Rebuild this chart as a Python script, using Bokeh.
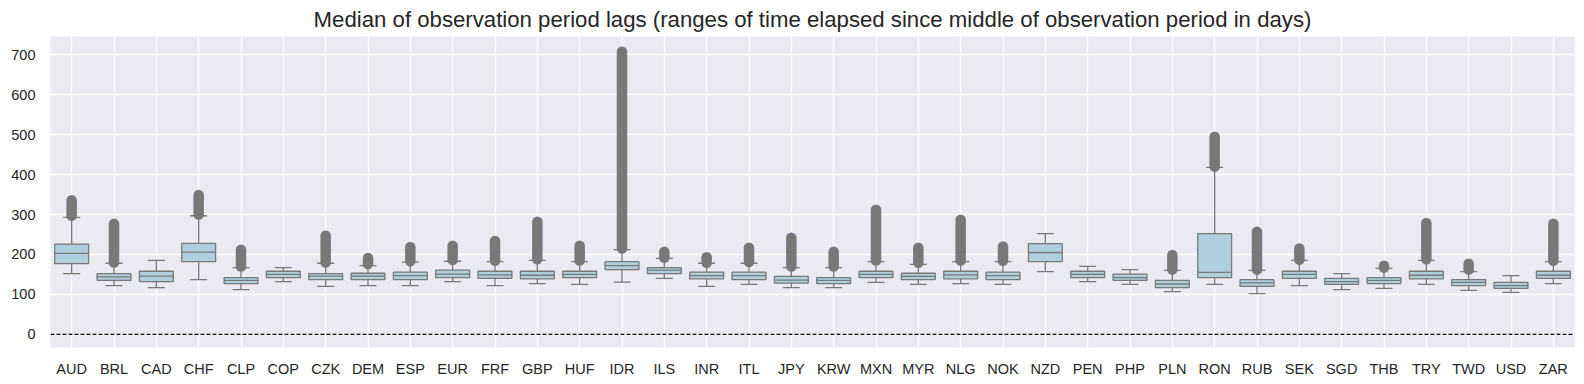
import math
from bokeh.plotting import figure
from bokeh.models import ColumnDataSource, Range1d, FixedTicker, Span, Title
from bokeh.embed import file_html
from bokeh.resources import INLINE

categories = ["AUD", "BRL", "CAD", "CHF", "CLP", "COP", "CZK", "DEM", "ESP", "EUR", "FRF", "GBP",
              "HUF", "IDR", "ILS", "INR", "ITL", "JPY", "KRW", "MXN", "MYR", "NLG", "NOK", "NZD",
              "PEN", "PHP", "PLN", "RON", "RUB", "SEK", "SGD", "THB", "TRY", "TWD", "USD", "ZAR"]
whisker_lo = [152, 122, 117, 137, 112, 132, 120, 122, 122, 132, 122, 127,
              125, 131, 140, 120, 125, 117, 117, 130, 125, 127, 125, 157,
              132, 125, 107, 125, 102, 122, 112, 115, 125, 110, 105, 127]
q1 = [177, 135, 132, 182, 127, 142, 137, 137, 137, 142, 140, 139,
      142, 162, 152, 139, 137, 128, 127, 142, 137, 139, 137, 182,
      142, 135, 117, 142, 120, 140, 125, 127, 139, 122, 115, 140]
median = [203, 144, 146, 206, 135, 150, 146, 146, 147, 151, 149, 148,
          150, 172, 161, 147, 147, 136, 135, 150, 145, 149, 147, 205,
          150, 142, 126, 155, 129, 150, 132, 135, 148, 130, 122, 148]
q3 = [226, 152, 158, 228, 142, 158, 152, 153, 156, 161, 158, 158,
      158, 182, 167, 156, 156, 145, 142, 158, 153, 158, 156, 227,
      158, 151, 135, 252, 137, 158, 140, 142, 158, 137, 130, 158]
whisker_hi = [293, 178, 185, 297, 167, 167, 178, 172, 181, 183, 182, 185,
              182, 212, 190, 178, 178, 167, 167, 182, 175, 182, 182, 252,
              170, 162, 160, 418, 160, 185, 152, 165, 185, 157, 147, 182]
nan = float("nan")
outlier_lo = [297, 180, nan, 300, 170, nan, 180, 176, 183, 186, 184, 188,
              185, 215, 192, 179, 181, 170, 170, 185, 179, 185, 184, nan,
              nan, nan, 162, 420, 162, 187, nan, 167, 188, 162, nan, 184]
outlier_hi = [336, 277, nan, 349, 212, nan, 247, 191, 219, 222, 234, 282,
              222, 708, 207, 193, 217, 242, 207, 312, 217, 287, 220, nan,
              nan, nan, 199, 495, 257, 215, nan, 172, 279, 177, nan, 277]
y_ticks = [0, 100, 200, 300, 400, 500, 600, 700]
title_text = "Median of observation period lags (ranges of time elapsed since middle of observation period in days)"

BOX_W = 0.8
CAP_W = 0.4
FILL = "#AFCFDF"
LINE = "#787878"
TXT = "#262626"
FONT = "Liberation Sans"

idx = list(range(len(categories)))
src = ColumnDataSource(dict(
    x=idx, lo=whisker_lo, q1=q1, med=median, q3=q3, hi=whisker_hi,
    cap_l=[i - CAP_W / 2 for i in idx], cap_r=[i + CAP_W / 2 for i in idx],
    box_l=[i - BOX_W / 2 for i in idx], box_r=[i + BOX_W / 2 for i in idx],
))
ox = [i for i in idx if not math.isnan(outlier_hi[i])]
osrc = ColumnDataSource(dict(
    x=ox, lo=[outlier_lo[i] for i in ox], hi=[outlier_hi[i] for i in ox]))

p = figure(frame_width=1524, frame_height=311, output_backend="svg", toolbar_location=None,
           x_range=Range1d(-0.5, len(categories) - 0.5), y_range=Range1d(-33, 746),
           min_border_left=50, min_border_right=10, min_border_top=35, min_border_bottom=38)
p.title = Title(text=title_text, align="center", text_font=FONT, text_font_size="22.2px",
                text_font_style="normal", text_color=TXT, standoff=9)
p.background_fill_color = "#EAEAF2"
p.border_fill_color = "white"
p.outline_line_color = None

for ax in (p.xaxis[0], p.yaxis[0]):
    ax.axis_line_color = None
    ax.major_tick_line_color = None
    ax.minor_tick_line_color = None
    ax.major_tick_out = 0
    ax.major_tick_in = 0
    ax.minor_tick_out = 0
    ax.major_label_text_font = FONT
    ax.major_label_text_font_size = "14.5px"
    ax.major_label_text_color = TXT
p.xaxis.ticker = FixedTicker(ticks=idx)
p.xaxis.major_label_overrides = {i: c for i, c in enumerate(categories)}
p.xaxis.major_label_standoff = 13
p.yaxis.ticker = FixedTicker(ticks=y_ticks)
p.yaxis.major_label_standoff = 15
p.xgrid.ticker = FixedTicker(ticks=idx)
for g in (p.xgrid[0], p.ygrid[0]):
    g.grid_line_color = "white"
    g.grid_line_width = 1.3

p.add_layout(Span(location=0, dimension="width", line_color="black",
                  line_dash="4 2", line_width=1.3))

# whiskers
p.segment(x0="x", y0="q3", x1="x", y1="hi", source=src, line_color=LINE, line_width=1.3)
p.segment(x0="x", y0="lo", x1="x", y1="q1", source=src, line_color=LINE, line_width=1.3)
p.segment(x0="cap_l", y0="hi", x1="cap_r", y1="hi", source=src, line_color=LINE, line_width=1.3)
p.segment(x0="cap_l", y0="lo", x1="cap_r", y1="lo", source=src, line_color=LINE, line_width=1.3)
# boxes
p.quad(left="box_l", right="box_r", bottom="q1", top="q3", source=src,
       fill_color=FILL, line_color=LINE, line_width=1.3)
p.segment(x0="box_l", y0="med", x1="box_r", y1="med", source=src, line_color=LINE, line_width=1.3)
# outliers (dense flier markers)
p.segment(x0="x", y0="lo", x1="x", y1="hi", source=osrc, line_color=LINE,
          line_width=10.5, line_cap="round")

open("out.html", "w").write(file_html(p, INLINE))
